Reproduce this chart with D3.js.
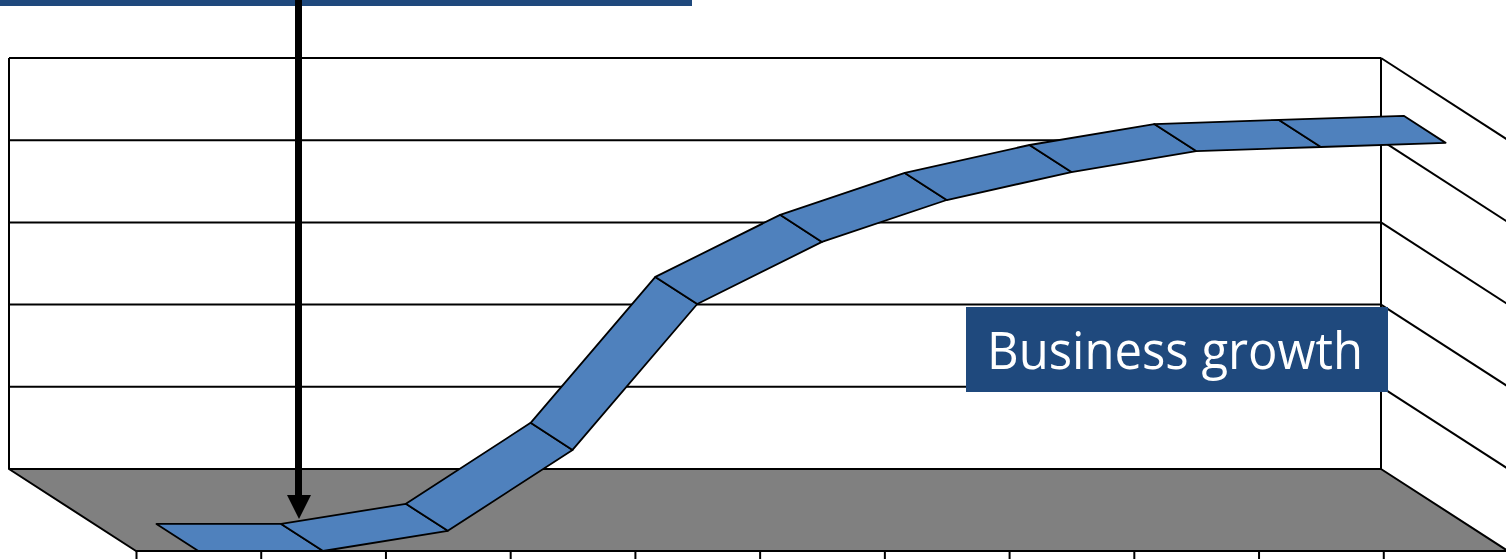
<!DOCTYPE html>
<html>
<head>
<meta charset="utf-8">
<script src="https://cdn.jsdelivr.net/npm/d3@7"></script>
<style>
  body { margin: 0; background: #fff; }
  svg { display: block; }
</style>
</head>
<body>
<script>
// chart data
var categories = ["1", "2", "3", "4", "5", "6", "7", "8", "9", "10", "11"];
var growth = [0, 0, 4.9, 24.6, 60.1, 75.2, 85.4, 92.2, 97.3, 98.3, 99.3];
var gridValues = [0, 20, 40, 60, 80, 100];
var labelText = "Business growth";

var width = 1506,
    height = 559;

var svg = d3.select("body")
    .append("svg")
    .attr("width", width)
    .attr("height", height);

// back wall scales
var x = d3.scaleBand()
    .domain(categories)
    .range([9, 1381])
    .padding(0);

var y = d3.scaleLinear()
    .domain([0, 100])
    .range([469, 58]);

// depth offset (back wall -> front of floor)
var depthX = 127,
    depthY = 82;

function proj(px, py, d) {
    return [px + depthX * d, py + depthY * d];
}

var lineCol = "#000";

// floor
var floor = [proj(9, 469, 0), proj(1381, 469, 0), proj(1381, 469, 1), proj(9, 469, 1)];
svg.append("path")
    .attr("class", "floor")
    .attr("d", d3.line()(floor) + "Z")
    .attr("fill", "#808080")
    .attr("stroke", lineCol)
    .attr("stroke-width", 2)
    .attr("stroke-linejoin", "round");

// back wall gridlines
svg.selectAll(".grid")
    .data(gridValues)
    .enter()
    .append("line")
    .attr("class", "grid")
    .attr("x1", 9)
    .attr("x2", 1381)
    .attr("y1", function(d) { return y(d); })
    .attr("y2", function(d) { return y(d); })
    .attr("stroke", lineCol)
    .attr("stroke-width", 2);

// back wall side edges
svg.append("line")
    .attr("x1", 9).attr("x2", 9)
    .attr("y1", y(100)).attr("y2", y(0))
    .attr("stroke", lineCol).attr("stroke-width", 2);
svg.append("line")
    .attr("x1", 1381).attr("x2", 1381)
    .attr("y1", y(100)).attr("y2", y(0))
    .attr("stroke", lineCol).attr("stroke-width", 2);

// right side wall gridlines
svg.selectAll(".sideGrid")
    .data(gridValues.filter(function(d) { return d > 0; }))
    .enter()
    .append("line")
    .attr("class", "sideGrid")
    .attr("x1", 1381)
    .attr("y1", function(d) { return y(d); })
    .attr("x2", function(d) { return proj(1381, y(d), 1)[0]; })
    .attr("y2", function(d) { return proj(1381, y(d), 1)[1]; })
    .attr("stroke", lineCol)
    .attr("stroke-width", 2);

// front ticks along front edge of floor
var front = d3.scaleLinear()
    .domain([0, categories.length])
    .range([9 + depthX, 1381 + depthX]);

svg.append("g")
    .attr("class", "xaxis")
    .attr("transform", "translate(0," + (469 + depthY) + ")")
    .call(d3.axisBottom(front)
        .tickValues(d3.range(0, categories.length + 1))
        .tickSize(9)
        .tickFormat(""))
    .call(function(g) { g.select(".domain").remove(); })
    .selectAll("line")
    .attr("stroke", lineCol)
    .attr("stroke-width", 2);

// 3D ribbon for the series
var dBack = 0.67,
    dFront = 1;

var pts = categories.map(function(c, i) {
    var cx = x(c) + x.bandwidth() / 2,
        cy = y(growth[i]);
    return { back: proj(cx, cy, dBack), front: proj(cx, cy, dFront) };
});

var segs = d3.range(pts.length - 1).map(function(i) {
    return [pts[i].back, pts[i + 1].back, pts[i + 1].front, pts[i].front];
});

svg.selectAll(".ribbon")
    .data(segs)
    .enter()
    .append("path")
    .attr("class", "ribbon")
    .attr("d", function(d) { return d3.line()(d) + "Z"; })
    .attr("fill", "#4F81BD")
    .attr("stroke", lineCol)
    .attr("stroke-width", 1.8)
    .attr("stroke-linejoin", "round");

// banner at top
svg.append("rect")
    .attr("x", 0).attr("y", 0)
    .attr("width", 692).attr("height", 6)
    .attr("fill", "#1F497D");

// arrow
svg.append("line")
    .attr("x1", 298.5).attr("x2", 298.5)
    .attr("y1", 0).attr("y2", 497)
    .attr("stroke", "#000")
    .attr("stroke-width", 7);
svg.append("path")
    .attr("d", d3.line()([[287, 495], [311, 495], [299, 519]]) + "Z")
    .attr("fill", "#000");

// label box
svg.append("rect")
    .attr("x", 966).attr("y", 307)
    .attr("width", 422).attr("height", 85)
    .attr("fill", "#1F497D");
svg.append("text")
    .attr("x", 987)
    .attr("y", 369)
    .attr("fill", "#fff")
    .attr("font-family", "'Open Sans', sans-serif")
    .attr("font-size", 51)
    .attr("textLength", 376)
    .attr("lengthAdjust", "spacingAndGlyphs")
    .text(labelText);
</script>
</body>
</html>
